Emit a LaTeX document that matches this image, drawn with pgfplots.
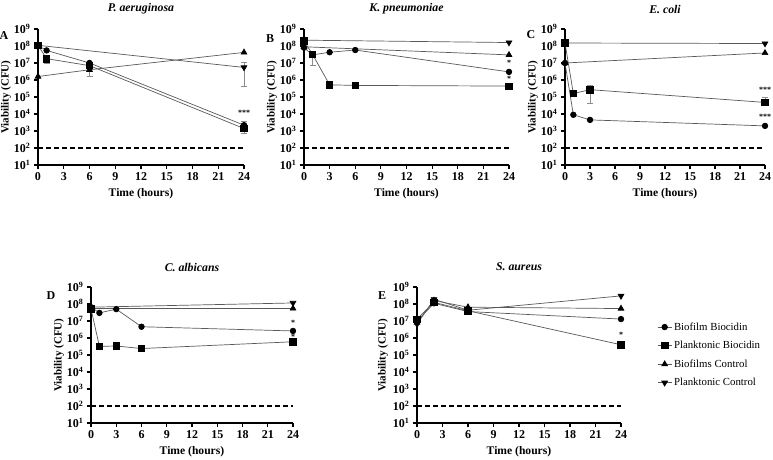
\documentclass[border=0pt]{standalone}
\usepackage{fontspec}
\setmainfont{Liberation Serif}
\usepackage{pgfplots}
\pgfplotsset{compat=1.18}

% shared look of the five viability panels
\pgfplotsset{
  viabpanel/.style={
    scale only axis, height=136pt,
    xmin=0, xmax=24, ymin=10, ymax=1e9,
    axis x line*=bottom, axis y line*=left,
    axis line style={line width=1.2pt, -},
    tick align=outside, major tick length=4pt,
    tick style={line width=1.1pt, black},
    xtick={0,3,6,9,12,15,18,21,24},
    xticklabels={0,3,6,9,12,15,18,21,24},
    ytick={1e1,1e2,1e3,1e4,1e5,1e6,1e7,1e8,1e9},
    yticklabels={10\textsuperscript{1},10\textsuperscript{2},10\textsuperscript{3},
                 10\textsuperscript{4},10\textsuperscript{5},10\textsuperscript{6},
                 10\textsuperscript{7},10\textsuperscript{8},10\textsuperscript{9}},
    yminorticks=false, xminorticks=false,
    tick label style={font=\bfseries\fontsize{12}{12}\selectfont},
    clip=false,
    xlabel={Time (hours)}, ylabel={Viability (CFU)},
    xlabel style={font=\bfseries\fontsize{11.6}{12}\selectfont,
                  at={(axis description cs:0.5,0)}, anchor=center, yshift=-29pt},
    ylabel style={font=\bfseries\fontsize{11}{12}\selectfont, anchor=center},
    title style={font=\bfseries\itshape\fontsize{11.8}{12}\selectfont,
                 at={(axis description cs:0.5,1)}, anchor=center, yshift=14pt},
  },
  viabseries/.style={
    color=black!65, line width=0.7pt,
    error bars/y dir=both, error bars/y explicit,
    error bars/error bar style={black!45, line width=0.8pt},
    error bars/error mark options={rotate=90, mark size=3pt, black!45, line width=0.8pt},
  },
  biofilmbio/.style={viabseries, mark=*, mark size=2.8pt,
    mark options={fill=black, draw=black, solid}},
  planktonbio/.style={viabseries, mark=square*, mark size=3.2pt,
    mark options={fill=black, draw=black, solid}},
  biofilmctl/.style={viabseries, mark=triangle*, mark size=3.3pt,
    mark options={fill=black, draw=black, solid}},
  planktonctl/.style={viabseries, mark=triangle*, mark size=3.3pt,
    mark options={fill=black, draw=black, solid, rotate=180}},
  detectlimit/.style={black, line width=1.1pt, dash pattern=on 5pt off 3pt, forget plot},
}
\tikzset{
  sigstars/.style={font=\bfseries\fontsize{8}{8}\selectfont},
  panelletter/.style={font=\bfseries\fontsize{12}{12}\selectfont},
}

\begin{document}
\begin{tikzpicture}
\useasboundingbox (0,0) rectangle (773pt,459pt);

% ---------------- A: P. aeruginosa ----------------
\begin{semilogyaxis}[viabpanel, at={(38pt,294pt)}, anchor=south west, width=206pt,
  title={P. aeruginosa}, ylabel style={at={(axis description cs:-0.155,0.5)}}]
\addplot[detectlimit] coordinates {(0,100) (24,100)};
\addplot[biofilmctl] coordinates {(0,1.6e6) (6,4e6) (24,4.2e7)};
\addplot[planktonctl] coordinates {(0,1.1e8) (24,5.5e6) += (0,5e6) -= (0,5.1e6)};
\addplot[biofilmbio] coordinates {(0,1.05e8) (1,5.5e7) (6,1e7) (24,2.2e3) += (0,1.3e3) -= (0,1.0e3)};
\addplot[planktonbio] coordinates {(0,1.1e8) (1,1.8e7) += (0,7e6) -= (0,9e6)
  (6,7e6) += (0,0) -= (0,5.4e6) (24,1.4e3) += (0,1.4e3) -= (0,7e2)};
\node[sigstars] at (axis cs:24,1.2e4) {***};
\end{semilogyaxis}

% ---------------- B: K. pneumoniae ----------------
\begin{semilogyaxis}[viabpanel, at={(304pt,294pt)}, anchor=south west, width=205pt,
  title={K. pneumoniae}, ylabel style={at={(axis description cs:-0.156,0.5)}}]
\addplot[detectlimit] coordinates {(0,100) (24,100)};
\addplot[planktonctl] coordinates {(0,2.2e8) (24,1.6e8)};
\addplot[biofilmctl] coordinates {(0,9e7) (24,3e7)};
\addplot[biofilmbio] coordinates {(0,8e7) (1,3e7) (3,4.3e7) (6,5.8e7) (24,3e6)};
\addplot[planktonbio] coordinates {(0,2e8) (1,3.2e7) += (0,0) -= (0,2.5e7) (3,5.2e5) (6,4.8e5) (24,4.4e5)};
\node[sigstars] at (axis cs:24,1e7) {*};
\node[sigstars] at (axis cs:24,1.1e6) {*};
\end{semilogyaxis}

% ---------------- C: E. coli ----------------
\begin{semilogyaxis}[viabpanel, at={(565pt,294pt)}, anchor=south west, width=200pt,
  title={E. coli}, ylabel style={at={(axis description cs:-0.16,0.5)}}]
\addplot[detectlimit] coordinates {(0,100) (24,100)};
\addplot[planktonctl] coordinates {(0,1.5e8) (24,1.4e8)};
\addplot[biofilmctl] coordinates {(0,1e7) (24,3.9e7)};
\addplot[biofilmbio] coordinates {(0,1e7) (1,9e3) (3,4.5e3) (24,2e3)};
\addplot[planktonbio] coordinates {(0,1.5e8) (1,1.6e5) (3,2.7e5) += (0,2.3e5) -= (0,2.3e5)
  (24,4.8e4) += (0,4.5e4) -= (0,0)};
\node[sigstars] at (axis cs:24,2.6e5) {***};
\node[sigstars] at (axis cs:24,7e3) {***};
\end{semilogyaxis}

% ---------------- D: C. albicans ----------------
\begin{semilogyaxis}[viabpanel, at={(91pt,36pt)}, anchor=south west, width=202pt,
  title={C. albicans}, ylabel style={at={(axis description cs:-0.158,0.5)}}]
\addplot[detectlimit] coordinates {(0,100) (24,100)};
\addplot[planktonctl] coordinates {(0,6.5e7) (24,1.15e8)};
\addplot[biofilmctl] coordinates {(0,5.5e7) (24,5.5e7)};
\addplot[biofilmbio] coordinates {(0,6.5e7) (1,3e7) (3,5e7) (6,4.6e6) (24,2.6e6)};
\addplot[planktonbio] coordinates {(0,5.2e7) (1,3.2e5) (3,3.4e5) (6,2.4e5) += (0,0) -= (0,7e4) (24,6e5)};
\node[sigstars] at (axis cs:24,7.5e6) {*};
\node[sigstars] at (axis cs:24,1.15e6) {*};
\end{semilogyaxis}

% ---------------- E: S. aureus ----------------
\begin{semilogyaxis}[viabpanel, at={(417pt,36pt)}, anchor=south west, width=204pt,
  title={S. aureus}, ylabel style={at={(axis description cs:-0.167,0.5)}},
  legend style={at={(axis description cs:1.177,0.755)}, anchor=north west,
    draw=none, fill=none, inner sep=0pt, row sep=5.5pt,
    font=\fontsize{10.8}{12}\selectfont,
    nodes={inner sep=2pt}},
  legend cell align=left,
  legend image code/.code={\draw[mark repeat=2, mark phase=2, #1]
    plot coordinates {(0pt,0pt) (7pt,0pt) (14pt,0pt)};}]
\addplot[detectlimit] coordinates {(0,100) (24,100)};
\addplot[biofilmbio] coordinates {(0,1e7) (2,1.1e8) (6,3.6e7) (24,1.3e7)};
\addlegendentry{Biofilm Biocidin}
\addplot[planktonbio] coordinates {(0,1.3e7) (2,1.25e8) (6,4e7) += (0,0) -= (0,1.4e7) (24,4e5)};
\addlegendentry{Planktonic Biocidin}
\addplot[biofilmctl] coordinates {(0,8e6) (2,1.6e8) (6,6.5e7) (24,5.4e7)};
\addlegendentry{Biofilms Control}
\addplot[planktonctl] coordinates {(0,6.5e6) (2,1.9e8) (6,4.3e7) (24,3e8)};
\addlegendentry{Planktonic Control}
\node[sigstars] at (axis cs:24,1.6e6) {*};
\end{semilogyaxis}

% panel letters
\node[panelletter] at (4pt,423pt) {A};
\node[panelletter] at (270pt,420pt) {B};
\node[panelletter] at (531pt,424pt) {C};
\node[panelletter] at (51pt,163pt) {D};
\node[panelletter] at (382pt,163pt) {E};
\end{tikzpicture}
\end{document}
